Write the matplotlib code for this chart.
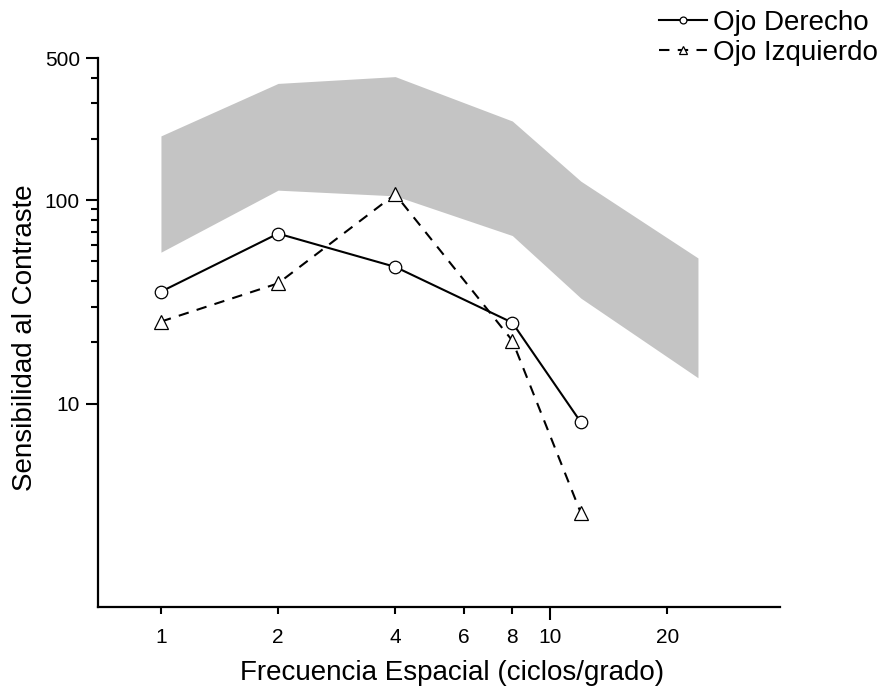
import matplotlib.pyplot as plt
from matplotlib.ticker import FixedLocator, NullFormatter

plt.rcParams['font.family'] = ['Liberation Sans', 'DejaVu Sans']

freq = [1, 2, 4, 8, 12]
ojo_derecho = [35.5, 68.5, 47, 25, 8.1]
ojo_izquierdo = [25.3, 39, 107, 20.4, 2.9]

band_x = [1, 2, 4, 8, 12, 24]
band_upper = [207, 375, 405, 245, 124, 52]
band_lower = [55.5, 112, 105, 67, 33, 13.4]

x_ticks = [1, 2, 4, 6, 8, 10, 20]
y_major = [10, 100, 500]
y_minor = [20, 30, 40, 50, 60, 70, 80, 90, 200, 300, 400]

fig = plt.figure(figsize=(8.84, 6.91), dpi=100)
ax = fig.add_axes([98 / 884, 1 - 607 / 691, (780 - 98) / 884, (607 - 58) / 691])

ax.fill_between(band_x, band_lower, band_upper, color='#c4c4c4', lw=0, zorder=1)

l1, = ax.plot(freq, ojo_derecho, color='black', lw=1.5, marker='o', ms=9,
              mfc='white', mec='black', mew=0.9, zorder=3, label='Ojo Derecho')
l2, = ax.plot(freq, ojo_izquierdo, color='black', lw=1.5, ls=(0, (5, 4)), marker='^',
              ms=10, mfc='white', mec='black', mew=0.9, zorder=2, label='Ojo Izquierdo')

ax.set_xscale('log')
ax.set_yscale('log')
ax.set_xlim(0.689, 39)
ax.set_ylim(1, 500)

# x ticks: 10 is the long one, the rest short
fmt = plt.FuncFormatter(lambda v, p: f'{v:g}')
ax.xaxis.set_major_locator(FixedLocator([10]))
ax.xaxis.set_minor_locator(FixedLocator([t for t in x_ticks if t != 10]))
ax.xaxis.set_major_formatter(fmt)
ax.xaxis.set_minor_formatter(fmt)
ax.tick_params(axis='x', which='major', length=9, width=1.5, labelsize=15, pad=6)
ax.tick_params(axis='x', which='minor', length=5, width=1.5, labelsize=15, pad=10)

ax.yaxis.set_major_locator(FixedLocator(y_major))
ax.yaxis.set_minor_locator(FixedLocator(y_minor))
ax.yaxis.set_major_formatter(fmt)
ax.yaxis.set_minor_formatter(NullFormatter())
ax.tick_params(axis='y', which='major', length=9, width=1.5, labelsize=15, pad=4)
ax.tick_params(axis='y', which='minor', length=5, width=1.5)

for side in ['top', 'right']:
    ax.spines[side].set_visible(False)
for side in ['left', 'bottom']:
    ax.spines[side].set_linewidth(1.6)

ax.set_xlabel('Frecuencia Espacial (ciclos/grado)', fontsize=20)
ax.xaxis.set_label_coords(0.519, -0.097)
ax.set_ylabel('Sensibilidad al Contraste', fontsize=20, labelpad=5)
ax.yaxis.label.set_y(0.49)

fig.legend(handles=[l1, l2], loc='upper right', bbox_to_anchor=(889 / 884, 1.002),
           frameon=False, fontsize=20, handlelength=1.75, handletextpad=0.2,
           markerscale=0.55, labelspacing=0.15, borderaxespad=0)

fig.savefig('out.png', dpi=100)
